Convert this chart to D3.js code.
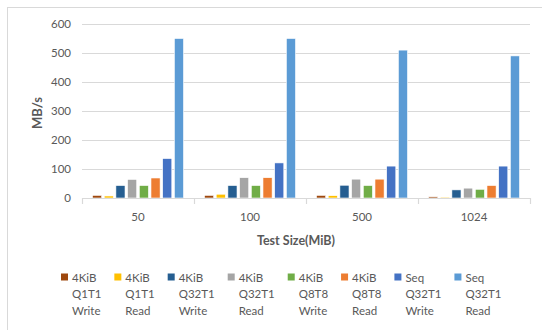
<!DOCTYPE html>
<html><head><meta charset="utf-8">
<script src="https://cdn.jsdelivr.net/npm/d3@7/dist/d3.min.js"></script>
<style>
body{margin:0;background:#fff;}
text{font-family:Lato,"Open Sans",sans-serif;fill:#595959;}
</style></head>
<body><svg id="c" width="542" height="330"></svg>
<script>
const categories = ["50","100","500","1024"];
const seriesNames = [
  ["4KiB","Q1T1","Write"],["4KiB","Q1T1","Read"],
  ["4KiB","Q32T1","Write"],["4KiB","Q32T1","Read"],
  ["4KiB","Q8T8","Write"],["4KiB","Q8T8","Read"],
  ["Seq","Q32T1","Write"],["Seq","Q32T1","Read"]
];
const colors = ["#9E480E","#FFC000","#255E91","#A5A5A5","#70AD47","#ED7D31","#4472C4","#5B9BD5"];
const q1t1Write  = [9, 9, 9, 4];
const q1t1Read   = [7, 13, 8, 3];
const q32t1Write = [43, 43, 44, 28];
const q32t1Read  = [64, 70, 65, 34];
const q8t8Write  = [43, 43, 43, 30];
const q8t8Read   = [69, 70, 65, 43];
const seqWrite   = [136, 121, 110, 110];
const seqRead    = [550, 550, 510, 490];
const series = [q1t1Write,q1t1Read,q32t1Write,q32t1Read,q8t8Write,q8t8Read,seqWrite,seqRead];
const yTicks = [0,100,200,300,400,500,600];

const svg = d3.select("#c");
svg.append("rect").attr("x",7.5).attr("y",7.5).attr("width",560).attr("height",340)
  .attr("fill","none").attr("stroke","#D9D9D9");

const L=82,R=530,T=24,B=198;
const y = d3.scaleLinear().domain([0,600]).range([B,T]);
const x0 = d3.scaleBand().domain(categories).range([L,R]);
const x1 = d3.scaleBand().domain(d3.range(series.length)).range([10.5, x0.bandwidth()-10.5]).paddingInner(0.22);

svg.append("g").selectAll("line").data(yTicks.slice(1)).join("line")
  .attr("x1",L).attr("x2",R).attr("y1",d=>y(d)+0.5).attr("y2",d=>y(d)+0.5)
  .attr("stroke","#D9D9D9").attr("stroke-width",1);

svg.append("g").selectAll("text").data(yTicks).join("text")
  .attr("x",71).attr("y",d=>y(d)+4).attr("text-anchor","end")
  .style("font-size","11.5px").text(d=>d);

const g = svg.append("g");
categories.forEach((c,ci)=>{
  series.forEach((s,si)=>{
    g.append("rect")
      .attr("x",x0(c)+x1(si)).attr("width",x1.bandwidth())
      .attr("y",y(s[ci])).attr("height",B-y(s[ci]))
      .attr("fill",colors[si]).attr("stroke","#fff").attr("stroke-width",0.6);
  });
});

// x axis
svg.append("line").attr("x1",L).attr("x2",R).attr("y1",B+0.5).attr("y2",B+0.5)
  .attr("stroke","#D9D9D9").attr("stroke-width",1.2);
const bounds = categories.map(c=>x0(c)).concat([R]);
svg.append("g").selectAll("line").data(bounds).join("line")
  .attr("x1",d=>d+0.5).attr("x2",d=>d+0.5).attr("y1",B).attr("y2",B+6)
  .attr("stroke","#D9D9D9").attr("stroke-width",1.2);
svg.append("g").selectAll("text").data(categories).join("text")
  .attr("x",d=>x0(d)+x0.bandwidth()/2).attr("y",221).attr("text-anchor","middle")
  .style("font-size","11.5px").text(d=>d);

svg.append("text").attr("x",296).attr("y",245).attr("text-anchor","middle")
  .style("font-size","12.5px").style("font-weight","bold").text("Test Size(MiB)");
svg.append("text").attr("transform","translate(42,113) rotate(-90)").attr("text-anchor","middle")
  .style("font-size","13px").style("font-weight","bold").text("MB/s");

// legend
const leg = svg.append("g");
let lx = 61;
seriesNames.forEach((lines,i)=>{
  const it = leg.append("g").attr("transform",`translate(${lx},0)`);
  it.append("rect").attr("x",0).attr("y",273.5).attr("width",7).attr("height",7).attr("fill",colors[i]);
  let w=0;
  lines.forEach((t,li)=>{
    const tx = it.append("text").attr("x",11).attr("y",281.5+li*16.5).style("font-size","11.5px").text(t);
    w = Math.max(w, tx.node().getComputedTextLength());
  });
  lx += 11 + w + 13;
});
</script></body></html>
